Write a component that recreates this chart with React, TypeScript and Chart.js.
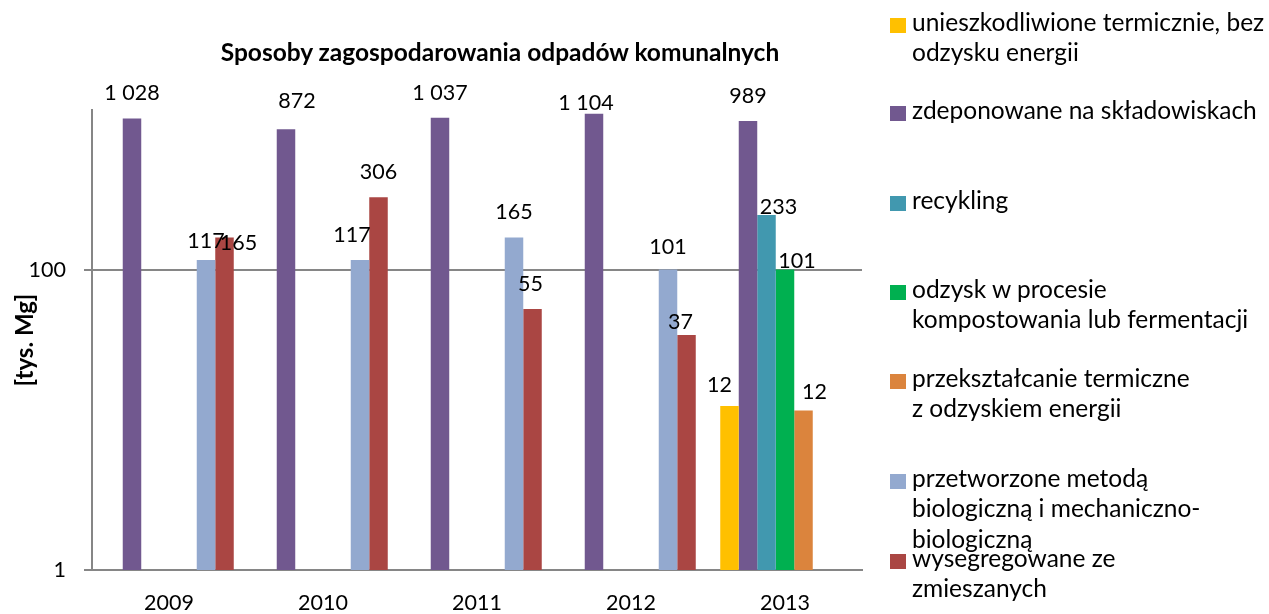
import React, { useEffect, useRef } from 'react';
import { Chart, registerables } from 'chart.js';

Chart.register(...registerables);

// ---------- data ----------
const chartTitle = 'Sposoby zagospodarowania odpadów komunalnych';
const yAxisTitle = '[tys. Mg]';
const years = ['2009', '2010', '2011', '2012', '2013'];

const seriesNames: string[][] = [
  ['unieszkodliwione termicznie, bez', 'odzysku energii'],
  ['zdeponowane na składowiskach'],
  ['recykling'],
  ['odzysk w procesie', 'kompostowania lub fermentacji'],
  ['przekształcanie termiczne', 'z odzyskiem energii'],
  ['przetworzone metodą', 'biologiczną i mechaniczno-', 'biologiczną'],
  ['wysegregowane ze', 'zmieszanych'],
];

const unieszkodliwione = [null, null, null, null, 12.4];
const zdeponowane = [1028, 872, 1037, 1104, 989];
const recykling = [null, null, null, null, 233];
const odzyskKompost = [null, null, null, null, 101];
const przeksztalcanie = [null, null, null, null, 11.6];
const przetworzone = [117, 117, 165, 101, null];
const wysegregowane = [165, 306, 55, 37, null];

const seriesValues = [
  unieszkodliwione,
  zdeponowane,
  recykling,
  odzyskKompost,
  przeksztalcanie,
  przetworzone,
  wysegregowane,
];

const seriesColors = ['#FFC000', '#71588F', '#4198AF', '#00B050', '#DB843D', '#93A9CF', '#AA4643'];
const yTickValues = [1, 100];
const yMin = 1;
const yMax = 1170;

// ---------- layout / style ----------
const FONT = 'Lato, "Open Sans", sans-serif';
const AXIS_COLOR = '#868686';
const W = 1269;
const H = 614;
const LABEL_FONT_PX = 21.5;
const LABEL_OFFSET = -25;
// per-label nudges (series-category) mimicking the original label placement
const LABEL_NUDGE: Record<string, [number, number]> = {
  '5-0': [0, 6],
  '6-0': [14, 31],
  '1-1': [11, -3],
  '5-1': [-8, 0],
  '6-2': [-2, 0],
  '1-3': [-8, 14],
  '5-3': [0, 3],
  '6-3': [-6, 12],
  '0-4': [-10, 4],
  '2-4': [12, 17],
  '3-4': [12, 17],
  '4-4': [11, 7],
};
const LEGEND_ROW_Y = [25, 113, 203, 292, 381, 481, 561];
const LEGEND_LINE_H = 30.5;
const LEGEND_FONT_PX = 24.5;

function formatValue(v: number): string {
  return String(Math.round(v)).replace(/\B(?=(\d{3})+(?!\d))/g, ' ');
}

const dataLabelPlugin = {
  id: 'dataLabels',
  afterDatasetsDraw(chart: any) {
    const ctx = chart.ctx;
    ctx.save();
    ctx.font = `${LABEL_FONT_PX}px ${FONT}`;
    ctx.fillStyle = '#000';
    ctx.textAlign = 'center';
    ctx.textBaseline = 'middle';
    chart.data.datasets.forEach((ds: any, di: number) => {
      const meta = chart.getDatasetMeta(di);
      meta.data.forEach((bar: any, ci: number) => {
        const v = ds.data[ci];
        if (v === null || v === undefined) return;
        const n = LABEL_NUDGE[`${di}-${ci}`] || [0, 0];
        ctx.fillText(formatValue(v), bar.x + n[0], bar.y + LABEL_OFFSET + n[1]);
      });
    });
    ctx.restore();
  },
};

export default function App() {
  const ref = useRef<HTMLCanvasElement>(null);

  useEffect(() => {
    if (!ref.current) return;
    const chart = new Chart(ref.current, {
      type: 'bar',
      data: {
        labels: years,
        datasets: seriesValues.map((vals, i) => ({
          label: seriesNames[i].join(' '),
          data: vals as any,
          backgroundColor: seriesColors[i],
          borderWidth: 0,
          categoryPercentage: 0.841,
          barPercentage: 1,
        })),
      },
      options: {
        animation: false,
        responsive: false,
        maintainAspectRatio: false,
        devicePixelRatio: 1,
        layout: { padding: { top: 110, right: W - 862, left: 0, bottom: 0 } },
        plugins: {
          legend: { display: false },
          title: { display: false },
          tooltip: { enabled: false },
        },
        scales: {
          x: {
            grid: { display: false, drawTicks: false },
            border: { display: true, color: AXIS_COLOR, width: 2 },
            ticks: {
              color: '#000',
              font: { family: FONT, size: LABEL_FONT_PX },
              padding: 20,
              maxRotation: 0,
            },
            afterFit: (s: any) => {
              s.height = 44;
            },
          },
          y: {
            type: 'logarithmic',
            min: yMin,
            max: yMax,
            afterBuildTicks: (s: any) => {
              s.ticks = yTickValues.map((v) => ({ value: v }));
            },
            ticks: {
              color: '#000',
              font: { family: FONT, size: LABEL_FONT_PX },
              padding: 18,
              callback: (v: any) => String(v),
            },
            grid: { color: AXIS_COLOR, lineWidth: 2, tickLength: 8, drawTicks: true },
            border: { display: true, color: AXIS_COLOR, width: 2 },
            title: {
              display: true,
              text: yAxisTitle,
              color: '#000',
              font: { family: FONT, size: 24, weight: 'bold' },
              padding: { top: 11, bottom: 0 },
            },
            afterFit: (s: any) => {
              s.width = 92;
            },
          },
        },
      } as any,
      plugins: [dataLabelPlugin],
    });
    return () => chart.destroy();
  }, []);

  return (
    <div
      style={{
        position: 'fixed',
        left: 0,
        top: 0,
        width: W,
        height: H,
        background: '#fff',
        fontFamily: FONT,
        color: '#000',
      }}
    >
      <canvas
        ref={ref}
        width={W}
        height={H}
        style={{ position: 'absolute', left: 0, top: 0, width: W, height: H }}
      />
      <div
        style={{
          position: 'absolute',
          left: 200,
          width: 600,
          top: 37,
          textAlign: 'center',
          fontWeight: 'bold',
          fontSize: 24.5,
          lineHeight: '30px',
          whiteSpace: 'nowrap',
        }}
      >
        {chartTitle}
      </div>
      {seriesNames.map((lines, i) => (
        <React.Fragment key={i}>
          <div
            style={{
              position: 'absolute',
              left: 890,
              top: LEGEND_ROW_Y[i] - 7.5,
              width: 16,
              height: 15,
              background: seriesColors[i],
            }}
          />
          <div
            style={{
              position: 'absolute',
              left: 912,
              top: LEGEND_ROW_Y[i] - LEGEND_LINE_H / 2 - 3,
              fontSize: LEGEND_FONT_PX,
              lineHeight: `${LEGEND_LINE_H}px`,
              whiteSpace: 'nowrap',
            }}
          >
            {lines.map((t, j) => (
              <div key={j}>{t}</div>
            ))}
          </div>
        </React.Fragment>
      ))}
    </div>
  );
}
